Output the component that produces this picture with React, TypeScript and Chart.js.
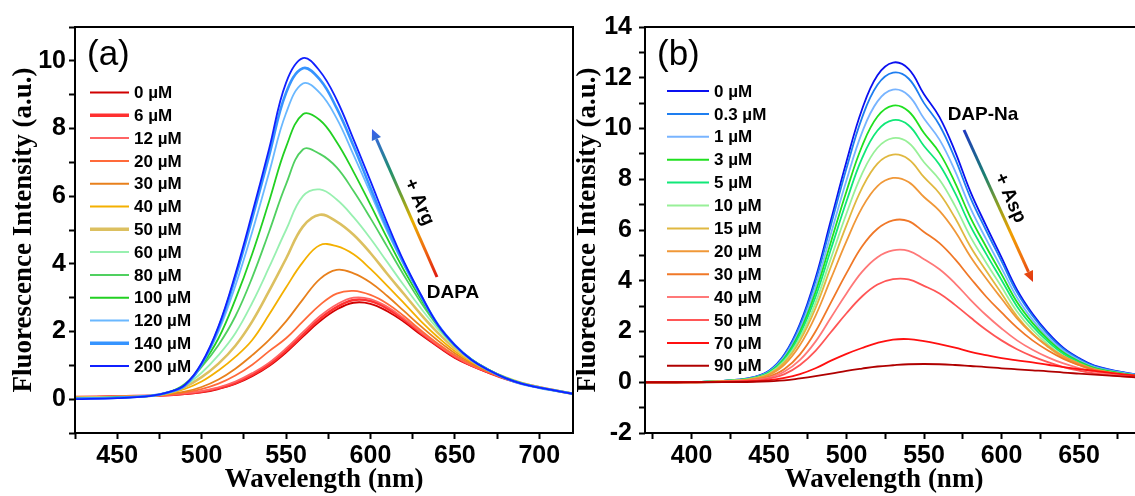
import React, { useEffect, useRef } from 'react';
import { Chart, registerables } from 'chart.js';

Chart.register(...registerables);

// ---------------- Panel (a) data ----------------
const wavelengthA = [425, 450, 470, 480, 490, 500, 510, 520, 530, 540, 550, 560, 570, 580, 590, 600, 610, 620, 630, 640, 650, 660, 670, 680, 690, 700, 720];
const labelsA = ['0 µM', '6 µM', '12 µM', '20 µM', '30 µM', '40 µM', '50 µM', '60 µM', '80 µM', '100 µM', '120 µM', '140 µM', '200 µM'];
const a0 = [0.05, 0.08, 0.1, 0.12, 0.15, 0.2, 0.3, 0.45, 0.68, 0.98, 1.38, 1.85, 2.3, 2.65, 2.85, 2.82, 2.6, 2.28, 1.9, 1.55, 1.22, 0.98, 0.78, 0.6, 0.46, 0.35, 0.16];
const a6 = [0.06, 0.08, 0.1, 0.12, 0.16, 0.22, 0.32, 0.48, 0.72, 1.02, 1.43, 1.9, 2.37, 2.72, 2.93, 2.9, 2.68, 2.34, 1.95, 1.58, 1.25, 0.99, 0.79, 0.6, 0.46, 0.35, 0.16];
const a12 = [0.06, 0.08, 0.1, 0.13, 0.17, 0.24, 0.35, 0.52, 0.77, 1.08, 1.5, 1.98, 2.45, 2.8, 3.0, 2.96, 2.73, 2.38, 1.98, 1.6, 1.27, 1.0, 0.8, 0.61, 0.46, 0.35, 0.16];
const a20 = [0.06, 0.08, 0.1, 0.14, 0.2, 0.3, 0.46, 0.7, 1.02, 1.42, 1.8, 2.3, 2.78, 3.12, 3.2, 3.08, 2.82, 2.45, 2.03, 1.64, 1.3, 1.02, 0.81, 0.61, 0.46, 0.35, 0.16];
const a30 = [0.05, 0.07, 0.1, 0.15, 0.22, 0.36, 0.58, 0.9, 1.3, 1.75, 2.3, 2.95, 3.55, 3.82, 3.72, 3.45, 3.05, 2.6, 2.15, 1.73, 1.36, 1.06, 0.82, 0.62, 0.46, 0.35, 0.16];
const a40 = [0.05, 0.07, 0.1, 0.16, 0.3, 0.52, 0.85, 1.25, 1.75, 2.5, 3.3, 4.05, 4.55, 4.52, 4.28, 3.85, 3.35, 2.83, 2.3, 1.83, 1.42, 1.1, 0.84, 0.63, 0.47, 0.35, 0.16];
const a50 = [0.04, 0.06, 0.1, 0.18, 0.36, 0.65, 1.05, 1.58, 2.3, 3.2, 4.15, 5.1, 5.45, 5.25, 4.86, 4.32, 3.7, 3.1, 2.5, 1.96, 1.5, 1.14, 0.86, 0.64, 0.47, 0.35, 0.16];
const a60 = [0.04, 0.06, 0.1, 0.19, 0.4, 0.78, 1.3, 1.95, 2.85, 3.9, 5.0, 6.0, 6.2, 5.9, 5.38, 4.75, 4.05, 3.35, 2.68, 2.07, 1.56, 1.16, 0.87, 0.64, 0.47, 0.35, 0.16];
const a80 = [0.03, 0.05, 0.1, 0.19, 0.45, 0.95, 1.6, 2.45, 3.6, 4.95, 6.35, 7.38, 7.25, 6.85, 6.15, 5.35, 4.5, 3.65, 2.85, 2.15, 1.58, 1.17, 0.87, 0.64, 0.47, 0.35, 0.16];
const a100 = [0.03, 0.05, 0.1, 0.2, 0.42, 1.0, 1.8, 2.95, 4.3, 5.85, 7.45, 8.42, 8.25, 7.6, 6.72, 5.75, 4.75, 3.8, 2.95, 2.18, 1.6, 1.17, 0.87, 0.63, 0.46, 0.34, 0.16];
const a120 = [0.02, 0.04, 0.1, 0.2, 0.4, 1.02, 2.0, 3.35, 4.95, 6.7, 8.45, 9.33, 9.05, 8.3, 7.22, 6.1, 4.95, 3.95, 3.02, 2.2, 1.6, 1.16, 0.86, 0.62, 0.45, 0.34, 0.16];
const a140 = [0.02, 0.04, 0.1, 0.2, 0.4, 1.04, 2.1, 3.6, 5.35, 7.2, 9.05, 9.78, 9.45, 8.6, 7.48, 6.25, 5.05, 4.0, 3.05, 2.2, 1.6, 1.16, 0.86, 0.62, 0.45, 0.34, 0.16];
const a200 = [0.0, 0.03, 0.1, 0.2, 0.42, 1.06, 2.15, 3.7, 5.5, 7.4, 9.35, 10.08, 9.7, 8.85, 7.68, 6.45, 5.2, 4.05, 3.08, 2.2, 1.6, 1.16, 0.86, 0.62, 0.45, 0.34, 0.16];
const seriesA = [a0, a6, a12, a20, a30, a40, a50, a60, a80, a100, a120, a140, a200];
const colorsA = ['#d00000', '#ff3030', '#ff6464', '#ff6a3a', '#e8801c', '#f4b000', '#dcc060', '#98f0b0', '#50d060', '#22d022', '#6ab8ff', '#3694ff', '#1020ff'];
const widthsA = [1.8, 2.6, 1.8, 1.8, 1.8, 1.8, 2.6, 1.8, 1.8, 1.8, 1.8, 2.6, 1.8];

// ---------------- Panel (b) data ----------------
const wavelengthB = [370, 390, 410, 430, 440, 450, 460, 470, 480, 490, 500, 510, 520, 530, 540, 550, 560, 570, 580, 590, 600, 610, 620, 630, 640, 650, 660, 680, 700];
const labelsB = ['0 µM', '0.3 µM', '1 µM', '3 µM', '5 µM', '10 µM', '15 µM', '20 µM', '30 µM', '40 µM', '50 µM', '70 µM', '90 µM'];
const b0 = [0, 0, 0.02, 0.1, 0.2, 0.45, 1.1, 2.3, 4.1, 6.4, 8.7, 10.75, 12.1, 12.6, 12.35, 11.35, 10.45, 9.1, 7.5, 6.18, 4.92, 3.65, 2.7, 1.95, 1.35, 0.95, 0.66, 0.38, 0.22];
const b03 = [0, 0, 0.02, 0.1, 0.19, 0.44, 1.07, 2.23, 3.97, 6.2, 8.43, 10.42, 11.72, 12.2, 11.97, 11.0, 10.13, 8.82, 7.27, 5.99, 4.77, 3.54, 2.62, 1.89, 1.31, 0.92, 0.64, 0.37, 0.21];
const b1 = [0, 0, 0.02, 0.09, 0.18, 0.41, 1.01, 2.1, 3.75, 5.86, 7.96, 9.84, 11.07, 11.53, 11.3, 10.39, 9.56, 8.33, 6.86, 5.65, 4.5, 3.34, 2.47, 1.78, 1.24, 0.87, 0.6, 0.35, 0.2];
const b3 = [0, 0, 0.02, 0.09, 0.17, 0.39, 0.95, 1.99, 3.55, 5.54, 7.53, 9.3, 10.47, 10.9, 10.68, 9.82, 9.04, 7.87, 6.49, 5.35, 4.26, 3.16, 2.34, 1.69, 1.17, 0.82, 0.57, 0.33, 0.19];
const b5 = [0, 0, 0.02, 0.08, 0.16, 0.37, 0.9, 1.89, 3.36, 5.25, 7.13, 8.82, 9.92, 10.33, 10.13, 9.31, 8.57, 7.46, 6.15, 5.07, 4.03, 2.99, 2.21, 1.6, 1.11, 0.78, 0.54, 0.31, 0.18];
const b10 = [0, 0, 0.02, 0.08, 0.15, 0.34, 0.84, 1.76, 3.13, 4.89, 6.65, 8.21, 9.24, 9.62, 9.44, 8.67, 7.98, 6.95, 5.73, 4.72, 3.76, 2.79, 2.06, 1.49, 1.03, 0.73, 0.5, 0.29, 0.17];
const b15 = [0, 0, 0.01, 0.07, 0.14, 0.32, 0.78, 1.64, 2.92, 4.56, 6.19, 7.65, 8.62, 8.97, 8.79, 8.08, 7.44, 6.48, 5.34, 4.4, 3.5, 2.6, 1.92, 1.39, 0.96, 0.68, 0.47, 0.27, 0.16];
const b20 = [0, 0, 0.01, 0.06, 0.13, 0.29, 0.7, 1.47, 2.62, 4.09, 5.56, 6.87, 7.73, 8.05, 7.89, 7.3, 6.75, 5.95, 4.95, 4.1, 3.3, 2.52, 1.9, 1.42, 1.02, 0.74, 0.52, 0.3, 0.18];
const b30 = [0, 0, 0.01, 0.05, 0.1, 0.22, 0.52, 1.1, 2.0, 3.15, 4.3, 5.35, 6.05, 6.38, 6.35, 5.92, 5.48, 4.85, 4.1, 3.38, 2.75, 2.15, 1.65, 1.25, 0.92, 0.68, 0.49, 0.29, 0.17];
const b40 = [0, 0, 0.01, 0.04, 0.08, 0.18, 0.42, 0.88, 1.6, 2.55, 3.5, 4.35, 4.93, 5.2, 5.18, 4.85, 4.45, 3.9, 3.25, 2.65, 2.12, 1.65, 1.28, 0.98, 0.74, 0.56, 0.42, 0.26, 0.16];
const b50 = [0, 0, 0.01, 0.03, 0.06, 0.14, 0.32, 0.68, 1.24, 1.98, 2.72, 3.38, 3.85, 4.06, 4.05, 3.8, 3.5, 3.05, 2.55, 2.07, 1.65, 1.3, 1.02, 0.79, 0.6, 0.46, 0.35, 0.22, 0.14];
const b70 = [0, 0, 0.01, 0.02, 0.04, 0.08, 0.17, 0.32, 0.55, 0.85, 1.12, 1.35, 1.55, 1.68, 1.7, 1.62, 1.5, 1.36, 1.2, 1.07, 0.95, 0.86, 0.78, 0.69, 0.6, 0.52, 0.45, 0.3, 0.2];
const b90 = [0, 0, 0, 0.01, 0.02, 0.04, 0.07, 0.15, 0.24, 0.34, 0.45, 0.54, 0.62, 0.67, 0.71, 0.72, 0.71, 0.68, 0.64, 0.6, 0.55, 0.51, 0.47, 0.43, 0.38, 0.34, 0.3, 0.22, 0.15];
const seriesB = [b0, b03, b1, b3, b5, b10, b15, b20, b30, b40, b50, b70, b90];
const colorsB = ['#0a10f0', '#1e7ef0', '#78b4ff', '#20e020', '#10e878', '#98f098', '#e0b840', '#f09838', '#f07828', '#ff7878', '#ff5656', '#ff1010', '#b00000'];
const widthsB = [1.8, 1.8, 1.8, 1.8, 1.8, 1.8, 1.8, 1.8, 1.8, 1.8, 1.8, 1.8, 1.8];

// ---------------- styling ----------------
const SANS = "'Liberation Sans', Arial, sans-serif";
const SERIF = "'Liberation Serif', 'Times New Roman', serif";

type Stop = [number, string];
type PanelCfg = {
  name: string;
  offsetX: number;
  canvasW: number;
  padRight: number;
  xs: number[];
  series: number[][];
  labels: string[];
  colors: string[];
  widths: number[];
  xMin: number; xMax: number; yMin: number; yMax: number;
  xLabelMax: number;
  yTickPad: number;
  legend: { x1: number; x2: number; tx: number; y0: number; dy: number };
  tag: { text: string; x: number; y: number };
  xTitle: { x: number; y: number };
  yTitle: { x: number; y: number };
  arrow: { x1: number; y1: number; x2: number; y2: number; stops: Stop[] };
  arrowText: { text: string; x: number; y: number; angle: number };
  name2: { text: string; x: number; y: number };
};

const panelA: PanelCfg = {
  name: 'a', offsetX: 0, canvasW: 580, padRight: 7,
  xs: wavelengthA, series: seriesA, labels: labelsA, colors: colorsA, widths: widthsA,
  xMin: 425, xMax: 720, yMin: -1, yMax: 11, xLabelMax: 700, yTickPad: 3,
  legend: { x1: 90, x2: 129, tx: 134, y0: 92.5, dy: 22.8 },
  tag: { text: '(a)', x: 87, y: 65 },
  xTitle: { x: 324, y: 480 },
  yTitle: { x: 24, y: 230 },
  arrow: { x1: 437, y1: 277, x2: 372, y2: 129, stops: [[0, '#e01a10'], [0.2, '#f07010'], [0.38, '#e8b000'], [0.55, '#70a030'], [0.72, '#209070'], [1, '#3a5ff0']] },
  arrowText: { text: '+ Arg', x: 419, y: 202, angle: Math.atan2(148, 65) },
  name2: { text: 'DAPA', x: 453, y: 293 },
};

const panelB: PanelCfg = {
  name: 'b', offsetX: 570, canvasW: 600, padRight: 13.5,
  xs: wavelengthB, series: seriesB, labels: labelsB, colors: colorsB, widths: widthsB,
  xMin: 370, xMax: 700, yMin: -2, yMax: 14, xLabelMax: 650, yTickPad: 7,
  legend: { x1: 667, x2: 709, tx: 714, y0: 91, dy: 22.9 },
  tag: { text: '(b)', x: 657, y: 65 },
  xTitle: { x: 884, y: 480 },
  yTitle: { x: 588, y: 230 },
  arrow: { x1: 964, y1: 130, x2: 1033, y2: 282, stops: [[0, '#2038c0'], [0.3, '#1a8070'], [0.5, '#90a020'], [0.68, '#f0a000'], [0.85, '#f07010'], [1, '#e03010']] },
  arrowText: { text: '+ Asp', x: 1010, y: 198, angle: Math.atan2(152, 69) },
  name2: { text: 'DAP-Na', x: 983, y: 115 },
};

function gradArrow(ctx: CanvasRenderingContext2D, x1: number, y1: number, x2: number, y2: number, stops: Stop[], lw: number, hl: number, hw: number) {
  const g = ctx.createLinearGradient(x1, y1, x2, y2);
  stops.forEach(([o, c]) => g.addColorStop(o, c));
  const a = Math.atan2(y2 - y1, x2 - x1);
  const bx = x2 - hl * Math.cos(a);
  const by = y2 - hl * Math.sin(a);
  ctx.strokeStyle = g;
  ctx.lineWidth = lw;
  ctx.lineCap = 'butt';
  ctx.beginPath();
  ctx.moveTo(x1, y1);
  ctx.lineTo(bx, by);
  ctx.stroke();
  ctx.fillStyle = g;
  ctx.beginPath();
  ctx.moveTo(x2, y2);
  ctx.lineTo(bx + (hw / 2) * Math.sin(a), by - (hw / 2) * Math.cos(a));
  ctx.lineTo(bx - (hw / 2) * Math.sin(a), by + (hw / 2) * Math.cos(a));
  ctx.closePath();
  ctx.fill();
}

function makeDecor(p: PanelCfg) {
  return {
    id: 'decor_' + p.name,
    afterDraw(chart: any) {
      const ctx: CanvasRenderingContext2D = chart.ctx;
      const { left, top, right, bottom } = chart.chartArea;
      const ox = p.offsetX;
      ctx.save();
      // frame
      ctx.strokeStyle = '#000';
      ctx.lineWidth = 2;
      ctx.strokeRect(left, top, right - left, bottom - top);
      // legend
      p.labels.forEach((lab, i) => {
        const y = p.legend.y0 + i * p.legend.dy;
        ctx.strokeStyle = p.colors[i];
        ctx.lineWidth = p.widths[i] > 2 ? 3.4 : 2;
        ctx.beginPath();
        ctx.moveTo(p.legend.x1 - ox, y);
        ctx.lineTo(p.legend.x2 - ox, y);
        ctx.stroke();
        ctx.fillStyle = '#000';
        ctx.font = `bold 17px ${SANS}`;
        ctx.textAlign = 'left';
        ctx.textBaseline = 'middle';
        ctx.fillText(lab, p.legend.tx - ox, y + 1);
      });
      // panel tag
      ctx.fillStyle = '#000';
      ctx.font = `35px ${SANS}`;
      ctx.textAlign = 'left';
      ctx.textBaseline = 'alphabetic';
      ctx.fillText(p.tag.text, p.tag.x - ox, p.tag.y);
      // axis titles
      ctx.font = `bold 27px ${SERIF}`;
      ctx.textAlign = 'center';
      ctx.textBaseline = 'middle';
      ctx.fillText('Wavelength (nm)', p.xTitle.x - ox, p.xTitle.y);
      ctx.save();
      ctx.translate(p.yTitle.x - ox, p.yTitle.y);
      ctx.rotate(-Math.PI / 2);
      ctx.fillText('Fluorescence Intensity (a.u.)', 0, 0);
      ctx.restore();
      // arrow
      gradArrow(ctx, p.arrow.x1 - ox, p.arrow.y1, p.arrow.x2 - ox, p.arrow.y2, p.arrow.stops, 3, 11, 10);
      // arrow text
      ctx.fillStyle = '#000';
      ctx.font = `bold 19px ${SANS}`;
      ctx.textAlign = 'center';
      ctx.textBaseline = 'middle';
      ctx.save();
      ctx.translate(p.arrowText.x - ox, p.arrowText.y);
      ctx.rotate(p.arrowText.angle);
      ctx.fillText(p.arrowText.text, 0, 0);
      ctx.restore();
      ctx.fillText(p.name2.text, p.name2.x - ox, p.name2.y);
      ctx.restore();
    },
  };
}

function buildChart(canvas: HTMLCanvasElement, p: PanelCfg) {
  const n = p.series.length;
  const datasets = p.series.map((vals, i) => ({
    label: p.labels[i],
    data: p.xs.map((x, j) => ({ x, y: vals[j] })),
    borderColor: p.colors[i],
    backgroundColor: p.colors[i],
    borderWidth: p.widths[i],
    pointRadius: 0,
    tension: 0.4,
    fill: false,
    order: n - i,
  }));
  const tickFont = { family: SANS, size: 25, weight: 'bold' as const };
  return new Chart(canvas, {
    type: 'line',
    data: { datasets },
    options: {
      responsive: false,
      animation: false,
      events: [],
      layout: { padding: { left: 0, right: p.padRight, top: 27, bottom: 0 } },
      plugins: { legend: { display: false }, tooltip: { enabled: false }, title: { display: false } },
      scales: {
        x: {
          type: 'linear',
          min: p.xMin,
          max: p.xMax,
          afterFit: (s: any) => { s.height = 63; s.paddingLeft = 0; s.paddingRight = 0; },
          border: { display: false },
          grid: { drawOnChartArea: false, drawTicks: true, color: '#000', tickColor: '#000', tickLength: 6, tickWidth: 2 },
          ticks: {
            stepSize: 25,
            autoSkip: false,
            includeBounds: false,
            maxRotation: 0,
            minRotation: 0,
            padding: 2,
            color: '#000',
            font: tickFont,
            callback: (v: any) => (Number(v) % 50 === 0 && Number(v) <= p.xLabelMax ? String(v) : ''),
          },
        },
        y: {
          type: 'linear',
          min: p.yMin,
          max: p.yMax,
          afterFit: (s: any) => { s.width = 75; },
          border: { display: false },
          grid: { drawOnChartArea: false, drawTicks: true, color: '#000', tickColor: '#000', tickLength: 6, tickWidth: 2 },
          ticks: {
            stepSize: 1,
            autoSkip: false,
            includeBounds: false,
            padding: p.yTickPad,
            color: '#000',
            font: tickFont,
            callback: (v: any) => (Math.abs(Number(v)) % 2 === 0 ? String(v) : ''),
          },
        },
      },
    },
    plugins: [makeDecor(p)],
  } as any);
}

export default function App() {
  const refA = useRef<HTMLCanvasElement>(null);
  const refB = useRef<HTMLCanvasElement>(null);
  useEffect(() => {
    const ca = buildChart(refA.current as HTMLCanvasElement, panelA);
    const cb = buildChart(refB.current as HTMLCanvasElement, panelB);
    return () => {
      ca.destroy();
      cb.destroy();
    };
  }, []);
  return (
    <div style={{ position: 'fixed', left: 0, top: 0, width: 1135, height: 496, overflow: 'hidden', background: '#fff' }}>
      <canvas ref={refA} width={panelA.canvasW} height={496} style={{ position: 'absolute', left: panelA.offsetX, top: 0 }} />
      <canvas ref={refB} width={panelB.canvasW} height={496} style={{ position: 'absolute', left: panelB.offsetX, top: 0 }} />
    </div>
  );
}
